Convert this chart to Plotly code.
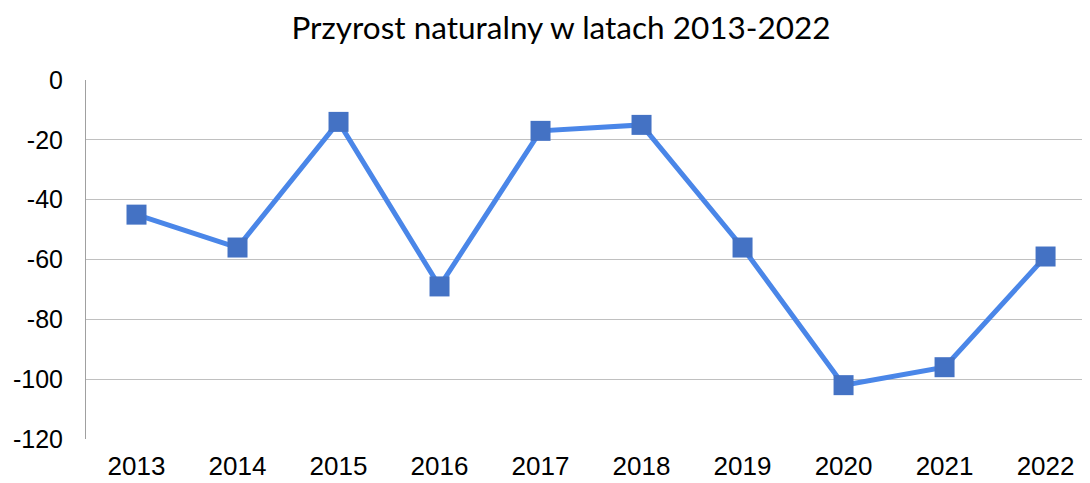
import plotly.graph_objects as go

years = ["2013", "2014", "2015", "2016", "2017", "2018", "2019", "2020", "2021", "2022"]
values = [-45, -56, -14, -69, -17, -15, -56, -102, -96, -59]
y_ticks = [0, -20, -40, -60, -80, -100, -120]
y_tick_text = ["0", "-20", "-40", "-60", "-80", "-100", "-120"]

fig = go.Figure()
fig.add_trace(go.Scatter(
    x=years, y=values, mode="lines+markers",
    line=dict(color="#4a86e8", width=5),
    marker=dict(symbol="square", size=20, color="#4472c4"),
))

# the page body has an 8px margin, so the figure is offset by 8px
fig.update_layout(
    width=1082, height=475,
    margin=dict(l=78, r=0, t=72, b=44),
    paper_bgcolor="white", plot_bgcolor="white",
    showlegend=False,
    title=dict(text="Przyrost naturalny w latach 2013-2022", x=553/1082, xanchor="center",
               y=1 - 20/475, yanchor="middle",
               font=dict(family="Lato", size=31.5, color="black")),
    font=dict(family="Liberation Sans", size=26, color="black"),
)
fig.update_xaxes(type="category", range=[-0.5, 9.44], showgrid=False, ticks="",
                 showline=False, zeroline=False, automargin=False, ticklabelstandoff=9,
                 tickfont=dict(family="Liberation Sans", size=26))
fig.update_yaxes(range=[-120, 0], tickvals=y_ticks, ticktext=y_tick_text,
                 showgrid=True, gridcolor="#c0c0c0",
                 gridwidth=1, zeroline=False, showline=True, linecolor="#a0a0a0", linewidth=1,
                 ticks="", ticklabelstandoff=17, automargin=False,
                 tickfont=dict(family="Liberation Sans", size=25))

fig.write_html("out.html")
